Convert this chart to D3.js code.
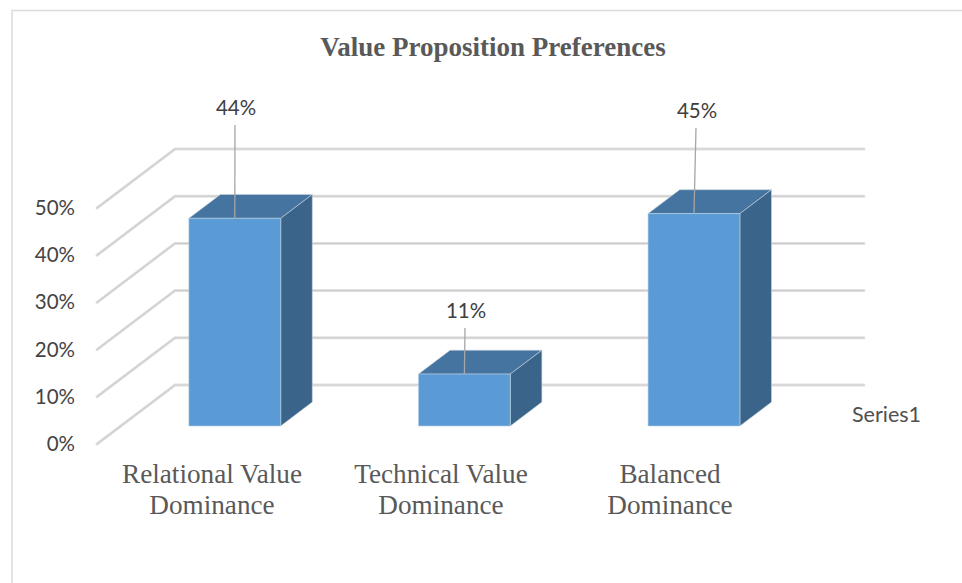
<!DOCTYPE html>
<html>
<head>
<meta charset="utf-8">
<script src="https://cdn.jsdelivr.net/npm/d3@7"></script>
<style>
	html, body { margin: 0; padding: 0; background: #fff; }
	svg { display: block; }
</style>
</head>
<body>
<div id="chart"></div>
<script>
// Values
const categories = ['Relational Value Dominance', 'Technical Value Dominance', 'Balanced Dominance'];
const categoryLines = [
	['Relational Value', 'Dominance'],
	['Technical Value', 'Dominance'],
	['Balanced', 'Dominance'],
];
const values = [44, 11, 45];
const ticks = [0, 10, 20, 30, 40, 50];
const seriesName = 'Series1';

const width = 962;
const height = 583;

const svg = d3
	.select('#chart')
	.append('svg')
	.attr('width', width)
	.attr('height', height);

// Chart frame
svg.append('path')
	.attr('d', 'M12,583V10.5H962')
	.attr('fill', 'none')
	.attr('stroke', '#dcdcdc')
	.attr('stroke-width', 1.5);

// Scales: value goes up, depth moves back and to the right
const y = d3.scaleLinear().domain([0, 50]).range([444, 208]);
const depthX = d3.scaleLinear().domain([0, 1]).range([0, 78]);
const depthY = d3.scaleLinear().domain([0, 1]).range([0, -59]);
const x = d3.scaleBand().domain(categories).range([96.2, 785]).paddingInner(0.6).paddingOuter(0.3);

const barFront = 0.305;
const barBack = 0.71;
const wallRight = 864;

// Gridlines along side wall and back wall
const grid = svg.append('g').attr('fill', 'none');
[['#e2e2e2', 3], ['#cdcdcd', 1.2]].forEach(([color, w]) => {
	grid.selectAll(null)
		.data(ticks)
		.enter()
		.append('path')
		.attr('d', (d) =>
			d3.line()([
				[97, y(d)],
				[97 + depthX(1), y(d) + depthY(1)],
				[wallRight, y(d) + depthY(1)],
			])
		)
		.attr('stroke', color)
		.attr('stroke-width', w)
		.attr('stroke-linecap', 'round');
});

// Axis tick labels
svg.selectAll('.tick-label')
	.data(ticks)
	.enter()
	.append('text')
	.attr('class', 'tick-label')
	.attr('x', 75)
	.attr('y', (d) => y(d) + 7)
	.attr('text-anchor', 'end')
	.attr('font-family', 'Lato, sans-serif')
	.attr('font-size', 20.5)
	.attr('fill', '#444')
	.text((d) => d + '%');

// Bars: front, top and side faces
const bars = svg
	.selectAll('.bar')
	.data(values)
	.enter()
	.append('g')
	.attr('class', 'bar');

const project = (d, i, right, level, depth) => {
	const left = x(categories[i]);
	return [
		left + (right ? x.bandwidth() : 0) + depthX(depth),
		y(level) + depthY(depth),
	];
};

bars.append('path')
	.attr('fill', '#44749f')
	.attr('stroke', '#c9d3dc')
	.attr('stroke-width', 0.6)
	.attr('d', (d, i) =>
		d3.line()([
			project(d, i, false, d, barFront),
			project(d, i, true, d, barFront),
			project(d, i, true, d, barBack),
			project(d, i, false, d, barBack),
		]) + 'Z'
	);

bars.append('path')
	.attr('fill', '#3a6489')
	.attr('stroke', '#c9d3dc')
	.attr('stroke-width', 0.6)
	.attr('d', (d, i) =>
		d3.line()([
			project(d, i, true, 0, barFront),
			project(d, i, true, d, barFront),
			project(d, i, true, d, barBack),
			project(d, i, true, 0, barBack),
		]) + 'Z'
	);

bars.append('path')
	.attr('fill', '#5b9bd5')
	.attr('stroke', '#b9cfe3')
	.attr('stroke-width', 0.6)
	.attr('d', (d, i) =>
		d3.line()([
			project(d, i, false, 0, barFront),
			project(d, i, false, d, barFront),
			project(d, i, true, d, barFront),
			project(d, i, true, 0, barFront),
		]) + 'Z'
	);

// Leader lines and data labels
const labelEnds = [[235, 125], [465, 328], [696, 128]];
bars.append('line')
	.attr('x1', (d, i) => x(categories[i]) + x.bandwidth() / 2 + depthX(barFront))
	.attr('y1', (d) => y(d) + depthY(barFront))
	.attr('x2', (d, i) => labelEnds[i][0])
	.attr('y2', (d, i) => labelEnds[i][1])
	.attr('stroke', '#a6a6a6')
	.attr('stroke-width', 1.3);

bars.append('text')
	.attr('x', (d, i) => labelEnds[i][0] + 1)
	.attr('y', (d, i) => labelEnds[i][1] - 10)
	.attr('text-anchor', 'middle')
	.attr('font-family', 'Lato, sans-serif')
	.attr('font-size', 20.5)
	.attr('fill', '#404040')
	.text((d) => d + '%');

// Category labels
const catLabels = svg
	.selectAll('.cat-label')
	.data(categoryLines)
	.enter()
	.append('text')
	.attr('class', 'cat-label')
	.attr('text-anchor', 'middle')
	.attr('font-family', 'Liberation Serif, serif')
	.attr('font-size', 27.2)
	.attr('fill', '#595959');

const catCenters = [212, 441, 670];
catLabels
	.selectAll('tspan')
	.data((d, i) => d.map((t) => ({ t, i })))
	.enter()
	.append('tspan')
	.attr('x', (d) => catCenters[d.i])
	.attr('y', (d, j) => 483 + j * 31)
	.text((d) => d.t);

// Series name on the depth axis
svg.append('text')
	.attr('x', 852)
	.attr('y', 422)
	.attr('font-family', 'Lato, sans-serif')
	.attr('font-size', 21.5)
	.attr('fill', '#505050')
	.text(seriesName);

// Title
svg.append('text')
	.attr('x', 493)
	.attr('y', 55.5)
	.attr('text-anchor', 'middle')
	.attr('font-family', 'Liberation Serif, serif')
	.attr('font-weight', 'bold')
	.attr('font-size', 27)
	.attr('fill', '#595959')
	.text('Value Proposition Preferences');
</script>
</body>
</html>
